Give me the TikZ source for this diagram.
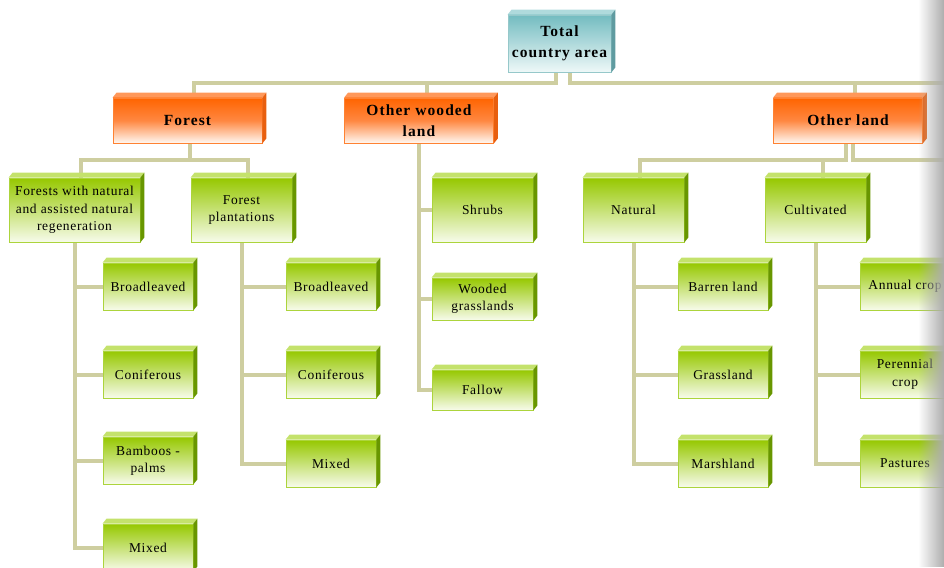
\documentclass[tikz,border=0pt]{standalone}
\usepackage{fontspec}
\setmainfont{Liberation Serif}
\usetikzlibrary{backgrounds,fadings}

\definecolor{RootTop}{RGB}{115,188,192}
\definecolor{RootBot}{RGB}{238,248,248}
\definecolor{RootLine}{RGB}{150,200,202}
\definecolor{RootLid}{RGB}{175,218,220}
\definecolor{RootSide}{RGB}{95,155,160}
\definecolor{HeadTop}{RGB}{255,100,0}
\definecolor{HeadMid}{RGB}{255,135,65}
\definecolor{HeadBot}{RGB}{255,248,242}
\definecolor{HeadLine}{RGB}{255,130,50}
\definecolor{HeadLid}{RGB}{255,152,90}
\definecolor{HeadSide}{RGB}{232,95,15}
\definecolor{LeafTop}{RGB}{150,200,0}
\definecolor{LeafBot}{RGB}{247,251,235}
\definecolor{LeafLine}{RGB}{172,212,60}
\definecolor{LeafLid}{RGB}{196,226,108}
\definecolor{LeafSide}{RGB}{104,150,0}
\definecolor{EdgeCol}{RGB}{206,206,160}

\tikzfading[name=EdgeFade, left color=transparent!100, right color=transparent!0]

\begin{document}
\begin{tikzpicture}[x=1pt,y=-1pt]

  \tikzset{BoxStyle/.style = {shape = rectangle, inner sep = 0pt,
      align = center, line width = 0.8pt}}
  \tikzset{RootStyle/.style = {BoxStyle, draw = RootLine,
      top color = RootTop, bottom color = RootBot,
      minimum width = 103pt, minimum height = 57pt,
      font = \fontsize{15.5}{21.5}\selectfont\bfseries\addfontfeature{LetterSpace=7}}}
  \tikzset{HeadStyle/.style = {BoxStyle, draw = HeadLine,
      top color = HeadTop, bottom color = HeadBot, middle color = HeadMid,
      minimum width = 149pt, minimum height = 45pt,
      font = \fontsize{15.5}{21.5}\selectfont\bfseries\addfontfeature{LetterSpace=7}}}
  \tikzset{LeafStyle/.style = {BoxStyle, draw = LeafLine,
      top color = LeafTop, bottom color = LeafBot,
      minimum width = 90pt, minimum height = 47pt,
      font = \fontsize{13.5}{17.5}\selectfont\addfontfeature{LetterSpace=5}}}
  \tikzset{MidStyle/.style = {LeafStyle, minimum width = 101pt, minimum height = 64pt}}
  \tikzset{EdgeStyle/.style = {draw = EdgeCol, line width = 4pt}}

  \useasboundingbox (0,0) rectangle (944,567);

  % levels 1 and 2
  \node[RootStyle] (total) at (559.5,43.5) {Total\\country area};
  \node[HeadStyle] (forest) at (187.5,120.5) {Forest};
  \node[HeadStyle] (owl) at (419,120.5) {Other wooded\\land};
  \node[HeadStyle] (oland) at (848,120.5) {Other land};

  % level 3
  \node[MidStyle, minimum width = 131pt] (fnat) at (74.5,210)
       {Forests with natural\\and assisted natural\\regeneration};
  \node[MidStyle] (fplant) at (241.5,210) {Forest\\plantations};
  \node[MidStyle] (shrubs) at (482.5,210) {Shrubs};
  \node[MidStyle, minimum height = 42pt] (wgrass) at (482.5,299) {Wooded\\grasslands};
  \node[MidStyle, minimum height = 40pt] (fallow) at (482.5,390) {Fallow};
  \node[MidStyle] (natural) at (633.5,210) {Natural};
  \node[MidStyle] (cultiv) at (815.5,210) {Cultivated};

  % level 4
  \node[LeafStyle] (fnbl) at (148,286.5) {Broadleaved};
  \node[LeafStyle] (fncon) at (148,374.5) {Coniferous};
  \node[LeafStyle] (fnbam) at (148,460.5) {Bamboos -\\palms};
  \node[LeafStyle] (fnmix) at (148,547.5) {Mixed};
  \node[LeafStyle] (fpbl) at (331,286.5) {Broadleaved};
  \node[LeafStyle] (fpcon) at (331,374.5) {Coniferous};
  \node[LeafStyle] (fpmix) at (331,463.5) {Mixed};
  \node[LeafStyle] (barren) at (723,286.5) {Barren land};
  \node[LeafStyle] (grass) at (723,374.5) {Grassland};
  \node[LeafStyle] (marsh) at (723,463.5) {Marshland};
  \node[LeafStyle] (annual) at (905,286.5) {Annual crop};
  \node[LeafStyle] (perenn) at (905,374.5) {Perennial\\crop};
  \node[LeafStyle] (past) at (905,463.5) {Pastures};

  % lids and sides
  \foreach \n/\lid/\side in {total/RootLid/RootSide, forest/HeadLid/HeadSide,
      owl/HeadLid/HeadSide, oland/HeadLid/HeadSide} {
    \fill[\lid] (\n.north west) -- ([shift={(4,-5)}]\n.north west)
      -- ([shift={(4,-5)}]\n.north east) -- (\n.north east) -- cycle;
    \fill[\side] (\n.north east) -- ([shift={(4,-5)}]\n.north east)
      -- ([shift={(4,-5)}]\n.south east) -- (\n.south east) -- cycle;
  }
  \foreach \n in {fnat,fplant,shrubs,wgrass,fallow,natural,cultiv,fnbl,fncon,fnbam,
      fnmix,fpbl,fpcon,fpmix,barren,grass,marsh,annual,perenn,past} {
    \fill[LeafLid] (\n.north west) -- ([shift={(4,-5)}]\n.north west)
      -- ([shift={(4,-5)}]\n.north east) -- (\n.north east) -- cycle;
    \fill[LeafSide] (\n.north east) -- ([shift={(4,-5)}]\n.north east)
      -- ([shift={(4,-5)}]\n.south east) -- (\n.south east) -- cycle;
  }

  \coordinate (rim) at (950,0);

  \begin{scope}[on background layer]
    \draw[EdgeStyle] ([xshift=-3.5]total.south) -- ++(0,11) -| ([xshift=6]forest.north);
    \draw[EdgeStyle] ([xshift=-3.5]total.south) -- ++(0,11) -| ([xshift=7.5]owl.north);
    \draw[EdgeStyle] ([xshift=10]total.south) -- ++(0,11) -| ([xshift=7]oland.north);
    \draw[EdgeStyle] ([xshift=10]total.south) -- ++(0,11) coordinate (busA) -- (busA -| rim);

    \draw[EdgeStyle] ([xshift=2]forest.south) -- ++(0,17) -| ([xshift=6.5]fnat.north);
    \draw[EdgeStyle] ([xshift=2]forest.south) -- ++(0,17) -| ([xshift=6.5]fplant.north);
    \draw[EdgeStyle] ([xshift=-2]oland.south) -- ++(0,17) -| ([xshift=6.5]natural.north);
    \draw[EdgeStyle] ([xshift=-2]oland.south) -- ++(0,17) -| ([xshift=7.5]cultiv.north);
    \draw[EdgeStyle] ([xshift=5]oland.south) -- ++(0,17) coordinate (busB) -- (busB -| rim);

    \foreach \c in {shrubs,wgrass,fallow} \draw[EdgeStyle] (owl.south) |- (\c.west);
    \foreach \c in {fnbl,fncon,fnbam,fnmix} \draw[EdgeStyle] (fnat.south) |- (\c.west);
    \foreach \c in {fpbl,fpcon,fpmix} \draw[EdgeStyle] (fplant.south) |- (\c.west);
    \foreach \c in {barren,grass,marsh} \draw[EdgeStyle] (natural.south) |- (\c.west);
    \foreach \c in {annual,perenn,past} \draw[EdgeStyle] (cultiv.south) |- (\c.west);
  \end{scope}

  % shadow on the right rim
  \fill[black!32, path fading=EdgeFade] (918,0) rectangle (944,567);

\end{tikzpicture}
\end{document}
